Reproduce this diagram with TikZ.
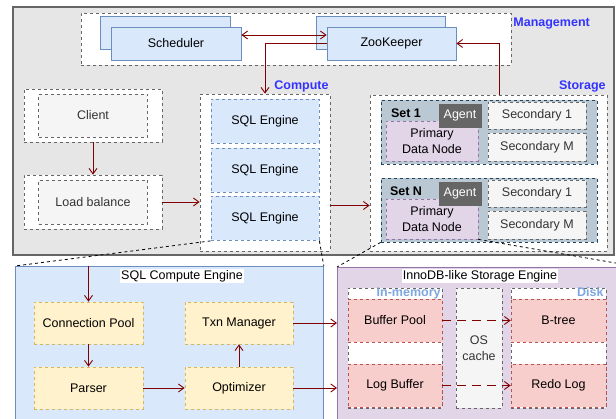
\documentclass[tikz,border=0pt]{standalone}
\usepackage{fontspec}
\setmainfont{Liberation Sans}
\usetikzlibrary{arrows.meta}

\definecolor{areabg}{HTML}{E6E6E6}
\definecolor{areabd}{HTML}{666666}
\definecolor{graybd}{HTML}{666666}
\definecolor{greybg}{HTML}{F5F5F5}
\definecolor{textgray}{HTML}{333333}
\definecolor{bluebg}{HTML}{DAE8FC}
\definecolor{bluebd}{HTML}{6C8EBF}
\definecolor{setbg}{HTML}{BAC8D3}
\definecolor{setbd}{HTML}{23445D}
\definecolor{agentbg}{HTML}{666666}
\definecolor{purplebg}{HTML}{E1D5E7}
\definecolor{purplebd}{HTML}{9673A6}
\definecolor{yellowbg}{HTML}{FFF2CC}
\definecolor{yellowbd}{HTML}{D6B656}
\definecolor{redbg}{HTML}{F8CECC}
\definecolor{redbd}{HTML}{B85450}
\definecolor{arrowred}{HTML}{800000}
\definecolor{tagblue}{HTML}{3333FF}
\definecolor{tagsoft}{HTML}{7EA6E0}

\begin{document}
\begin{tikzpicture}[x=1pt, y=-1pt, line width=0.8pt,
    font=\fontsize{12.5}{16}\selectfont,
    >={Straight Barb[length=5.5pt,width=8pt]},
    sz/.style 2 args={minimum width=#1, minimum height=#2, inner sep=0pt, align=center},
    bluebox/.style={draw=bluebd, fill=bluebg},
    framebox/.style={draw=graybd, dashed, fill=white},
    greybox/.style={draw=graybd, dashed, fill=greybg, text=textgray},
    setbox/.style={draw=setbd, dashed, fill=setbg},
    agent/.style={draw=graybd, fill=agentbg, text=white},
    primary/.style={draw=purplebd, dashed, fill=purplebg},
    yellowbox/.style={draw=yellowbd, dashed, fill=yellowbg},
    redbox/.style={draw=redbd, dashed, fill=redbg},
    tag/.style={text=tagblue, inner sep=0pt, font=\fontsize{12.5}{16}\selectfont\bfseries},
    arr/.style={draw=arrowred, line width=0.9pt, ->},
    zoomline/.style={dashed, line width=0.8pt}]
    \useasboundingbox (0,0) rectangle (616,419);
    \clip (0,0) rectangle (616,419);

    % upper part: management, compute and storage layers
    \node[draw=areabd, line width=1.2pt, fill=areabg, sz={601}{248}] (area) at (313.5,131) {};
    \node[framebox, sz={430}{52}] (mgmt) at (296,39) {};
    \node[tag, anchor=west] (mgmt-l) at (513,24) {Management};
    \node[bluebox, sz={130}{33}] (sched-bk) at (165,32.5) {};
    \node[bluebox, sz={130}{33}] (sched) at (176,43.5) {Scheduler};
    \node[bluebox, sz={129}{33}] (zk-bk) at (380.5,32.5) {};
    \node[bluebox, sz={129}{33}] (zk) at (391.5,43.5) {ZooKeeper};

    \node[framebox, sz={138}{53}] (client-o) at (93,115.5) {};
    \node[greybox, sz={109}{43}] (client) at (93,115.5) {Client};
    \node[framebox, sz={138}{54}] (lb-o) at (93,202) {};
    \node[greybox, sz={109}{44}] (lb) at (93,202) {Load balance};

    \node[framebox, sz={130}{157}] (compute) at (265,172.5) {};
    \node[tag, anchor=west] (compute-l) at (274,86) {Compute};
    \foreach \i/\y in {1/121, 2/170, 3/218.5}
        \node[bluebox, dashed, sz={108}{44}] (eng\i) at (265,\y) {SQL Engine};

    \node[framebox, sz={237}{156}] (storage) at (488.5,173) {};
    \node[tag, anchor=east] (storage-l) at (606,86) {Storage};
    \foreach \lbl/\k/\dy in {1/a/0, N/b/78} {
        \node[setbox, sz={216}{64}] (set\k) at (489,132+\dy) {};
        \node[inner sep=0pt, font=\fontsize{12.5}{16}\selectfont\bfseries] (set\k-l) at (406,113+\dy) {Set \lbl};
        \node[primary, sz={92}{40}] (pri\k) at (432,141+\dy) {Primary\\Data Node};
        \node[agent, sz={42}{23}] (agent\k) at (460,115.5+\dy) {Agent};
        \node[greybox, sz={98}{27}] (sec\k-1) at (537,115.5+\dy) {Secondary 1};
        \node[greybox, sz={98}{28}] (sec\k-m) at (537,147+\dy) {Secondary M};
    }

    % lower part: the two engines
    \node[bluebox, sz={308}{170}, anchor=north west] (sqlce) at (15,266) {};
    \node[fill=white, inner sep=1pt] (sqlce-l) at (182,276) {SQL Compute Engine};
    \node[yellowbox, sz={109}{42}] (cpool) at (88.5,323) {Connection Pool};
    \node[yellowbox, sz={109}{42}] (parser) at (88.5,388) {Parser};
    \node[yellowbox, sz={108}{42}] (txn) at (239,323) {Txn Manager};
    \node[yellowbox, sz={108}{42}] (opt) at (239,388) {Optimizer};

    \node[primary, solid, sz={301}{170}, anchor=north west] (inno) at (337,267) {};
    \node[fill=white, inner sep=1pt] (inno-l) at (480,276) {InnoDB-like Storage Engine};
    \node[framebox, sz={94}{120}] (mem) at (395,348) {};
    \node[greybox, sz={46}{120}] (os) at (479,348) {OS\\cache};
    \node[framebox, sz={95}{120}] (disk) at (558.5,348) {};
    \node[redbox, sz={94}{43}] (bpool) at (395,320.5) {Buffer Pool};
    \node[redbox, sz={94}{43}] (logbuf) at (395,385.5) {Log Buffer};
    \node[redbox, sz={95}{43}] (btree) at (558.5,320.5) {B-tree};
    \node[redbox, sz={95}{43}] (redo) at (558.5,385.5) {Redo Log};
    \node[tag, text=tagsoft, anchor=base east] (mem-l) at (441,297) {In-memory};
    \node[tag, text=tagsoft, anchor=base east] (disk-l) at (604,297) {Disk};

    % dashed lines opening up an engine
    \draw[zoomline] (eng3.south west) -- (sqlce.north west);
    \draw[zoomline] (eng3.south east) -- (sqlce.north east);
    \draw[zoomline] (setb.south west) -- (inno.north west);
    \draw[zoomline] (prib.south east) -- (inno.north east);

    % arrows
    \coordinate (st-up) at (499,95);
    \draw[arr, <->] ([yshift=8.5pt]sched.east) -- ([yshift=8.5pt]zk.west);
    \draw[arr] ([yshift=0.5pt]zk.west) -| (compute.north);
    \draw[arr] (st-up) |- (zk.east);
    \draw[arr] (client-o) -- (lb-o);
    \draw[arr] (lb-o.east) -- (lb-o.east -| compute.west);
    \draw[arr] ([yshift=-33pt]compute.east) -- ([yshift=-32.5pt]storage.west);

    \draw[arr] (cpool.north |- sqlce.north) -- (cpool.north);
    \draw[arr] (cpool) -- (parser);
    \draw[arr] (parser) -- (opt);
    \draw[arr] (opt) -- (txn);
    \draw[arr] (txn.east) -- (txn.east -| inno.west);
    \draw[arr] (opt.east) -- (opt.east -| inno.west);
    \draw[arr, dash pattern=on 9pt off 6pt] (bpool) -- (btree);
    \draw[arr, dash pattern=on 9pt off 6pt] (logbuf) -- (redo);
\end{tikzpicture}
\end{document}
